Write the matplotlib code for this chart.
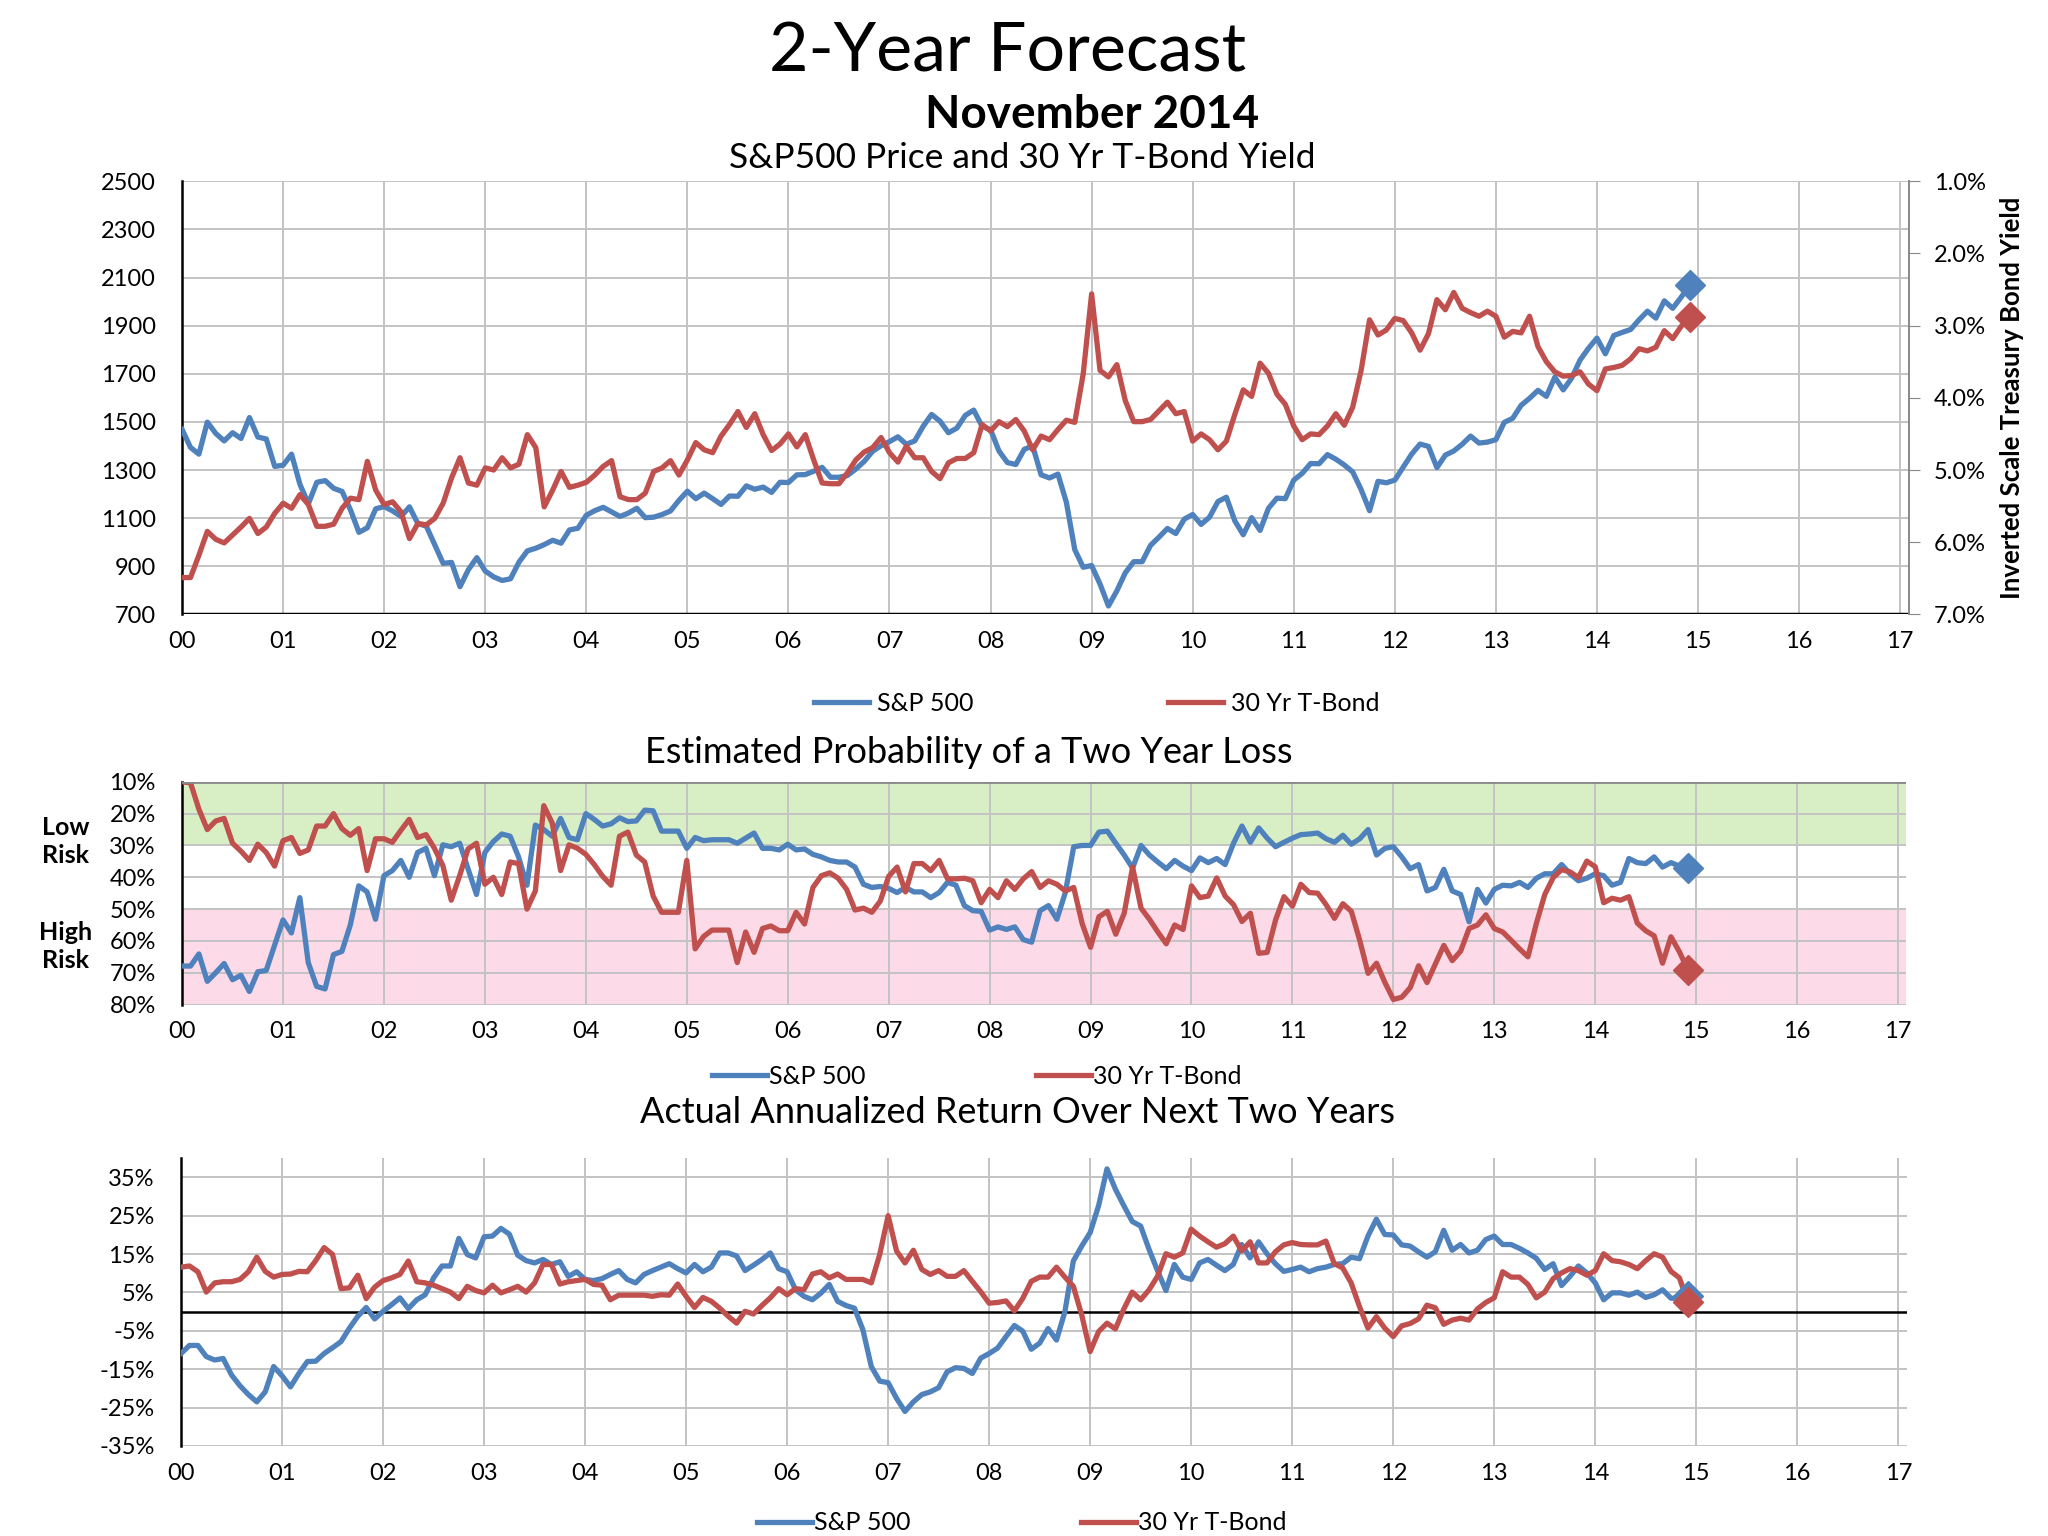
"""2-Year Forecast, November 2014: S&P 500 vs 30 Yr T-Bond."""

import numpy as np
import matplotlib.pyplot as plt
from matplotlib.lines import Line2D
from matplotlib.ticker import FuncFormatter

plt.rcParams["font.family"] = ["Lato", "DejaVu Sans"]

BLUE = "#4f81bd"
RED = "#c0504d"
GRID = "#c3c3c3"

# Monthly values, first point = Dec 1999 (x = 0), last = Nov 2014
spx_price = [
    1469, 1394, 1366, 1499, 1452, 1421, 1455, 1431, 1518, 1437, 1429, 1315, 1320,
    1366, 1240, 1160, 1249, 1256, 1224, 1211, 1134, 1041, 1060, 1139, 1148,
    1130, 1107, 1147, 1077, 1067, 990, 912, 916, 815, 886, 936, 880,
    856, 841, 848, 917, 964, 975, 990, 1008, 996, 1051, 1058, 1112,
    1131, 1145, 1126, 1107, 1121, 1141, 1102, 1104, 1115, 1130, 1174, 1212,
    1181, 1204, 1181, 1157, 1192, 1191, 1234, 1220, 1229, 1207, 1249, 1248,
    1280, 1281, 1295, 1311, 1270, 1270, 1277, 1304, 1336, 1378, 1401, 1418,
    1438, 1407, 1421, 1482, 1531, 1503, 1455, 1474, 1527, 1549, 1481, 1468,
    1379, 1331, 1323, 1386, 1400, 1280, 1267, 1283, 1166, 969, 896, 903,
    826, 735, 798, 873, 919, 919, 987, 1021, 1057, 1036, 1096, 1115,
    1074, 1104, 1169, 1187, 1089, 1031, 1102, 1049, 1141, 1183, 1181, 1258,
    1286, 1327, 1326, 1364, 1345, 1321, 1292, 1219, 1131, 1253, 1247, 1258,
    1312, 1366, 1408, 1398, 1310, 1362, 1379, 1407, 1441, 1412, 1416, 1426,
    1498, 1515, 1569, 1598, 1631, 1606, 1686, 1633, 1682, 1757, 1806, 1848,
    1783, 1859, 1872, 1884, 1924, 1960, 1931, 2003, 1972, 2018, 2068,
]

bond_yield = [
    6.49, 6.49, 6.18, 5.85, 5.96, 6.01, 5.90, 5.79, 5.67, 5.88, 5.79, 5.60,
    5.46, 5.53, 5.34, 5.48, 5.78, 5.78, 5.75, 5.53, 5.39, 5.41, 4.88, 5.28,
    5.48, 5.44, 5.58, 5.95, 5.74, 5.76, 5.67, 5.46, 5.11, 4.83, 5.18, 5.21,
    4.97, 5.00, 4.83, 4.97, 4.92, 4.51, 4.69, 5.51, 5.28, 5.02, 5.24, 5.21,
    5.17, 5.07, 4.95, 4.87, 5.37, 5.41, 5.41, 5.32, 5.02, 4.97, 4.87, 5.07,
    4.86, 4.62, 4.72, 4.76, 4.53, 4.37, 4.19, 4.41, 4.22, 4.51, 4.73, 4.64,
    4.50, 4.68, 4.51, 4.86, 5.18, 5.19, 5.19, 5.04, 4.86, 4.75, 4.69, 4.55,
    4.76, 4.89, 4.67, 4.83, 4.83, 5.02, 5.12, 4.90, 4.84, 4.84, 4.76, 4.37,
    4.46, 4.33, 4.40, 4.30, 4.46, 4.72, 4.53, 4.58, 4.44, 4.31, 4.34, 3.67,
    2.56, 3.62, 3.71, 3.54, 4.04, 4.33, 4.33, 4.30, 4.18, 4.06, 4.22, 4.19,
    4.60, 4.50, 4.58, 4.72, 4.60, 4.23, 3.89, 3.98, 3.52, 3.66, 3.95, 4.09,
    4.39, 4.58, 4.50, 4.51, 4.39, 4.22, 4.38, 4.13, 3.62, 2.92, 3.13, 3.06,
    2.90, 2.93, 3.10, 3.34, 3.11, 2.64, 2.78, 2.54, 2.76, 2.82, 2.87, 2.80,
    2.87, 3.16, 3.08, 3.10, 2.87, 3.29, 3.50, 3.64, 3.70, 3.69, 3.64, 3.81,
    3.90, 3.60, 3.58, 3.55, 3.46, 3.32, 3.35, 3.30, 3.07, 3.18, 3.01, 2.88,
]

spx_loss_prob = [
    67.9, 67.9, 64.1, 72.7, 70.0, 67.1, 72.2, 70.8, 75.9, 69.7, 69.3, 61.4,
    53.4, 57.5, 46.4, 66.8, 74.3, 75.1, 64.3, 63.3, 55.0, 42.7, 44.6, 53.2,
    39.5, 37.9, 34.7, 40.0, 32.2, 30.9, 39.5, 29.8, 30.4, 29.3, 37.3, 45.4,
    32.2, 28.8, 26.4, 27.1, 33.6, 42.5, 23.6, 25.0, 27.1, 21.5, 27.5, 28.2,
    20.0, 21.8, 23.9, 23.2, 21.3, 22.5, 22.3, 18.9, 19.1, 25.5, 25.5, 25.5,
    30.9, 27.5, 28.5, 28.2, 28.2, 28.2, 29.3, 27.7, 26.1, 30.9, 30.9, 31.4,
    29.6, 31.4, 31.1, 32.8, 33.6, 34.7, 35.2, 35.2, 36.8, 42.2, 43.2, 42.9,
    43.5, 44.8, 43.2, 44.6, 44.6, 46.4, 44.8, 41.6, 42.5, 48.9, 50.5, 50.7,
    56.6, 55.6, 56.4, 55.6, 59.6, 60.4, 50.5, 48.9, 53.2, 44.8, 30.4, 30.0,
    30.0, 25.8, 25.5, 29.3, 33.0, 37.1, 30.0, 33.0, 35.2, 37.3, 34.7, 36.5,
    37.9, 33.9, 35.4, 34.1, 36.0, 29.3, 23.9, 29.0, 24.5, 27.7, 30.4, 29.0,
    27.7, 26.6, 26.4, 26.1, 27.9, 29.0, 26.8, 29.6, 27.9, 25.0, 33.0, 30.9,
    30.4, 33.6, 37.3, 36.0, 44.3, 43.2, 37.5, 44.3, 45.4, 54.0, 43.8, 48.1,
    43.8, 42.5, 42.7, 41.6, 43.2, 40.3, 38.9, 38.9, 36.0, 38.9, 41.1, 40.3,
    38.9, 39.5, 42.5, 41.6, 34.1, 35.4, 35.7, 33.6, 36.8, 35.4, 36.5, 37.1,
]

bond_loss_prob = [
    10.0, 10.3, 18.6, 25.0, 22.3, 21.5, 29.3, 31.8, 34.7, 29.6, 32.2, 36.5,
    28.5, 27.5, 32.5, 31.4, 23.9, 23.9, 20.0, 24.7, 26.8, 24.7, 37.9, 27.9,
    27.9, 29.0, 25.3, 21.8, 27.5, 26.6, 30.9, 36.3, 47.2, 39.5, 31.1, 29.3,
    42.2, 40.0, 45.4, 35.2, 35.7, 50.0, 44.3, 17.5, 22.9, 37.9, 29.8, 30.9,
    32.8, 36.0, 39.7, 42.5, 27.1, 25.8, 33.0, 35.2, 45.9, 51.0, 51.0, 51.0,
    34.7, 62.5, 58.6, 56.6, 56.6, 56.6, 66.8, 57.2, 63.6, 56.1, 55.3, 56.8,
    56.8, 51.0, 54.7, 43.2, 39.5, 38.6, 40.3, 43.8, 50.3, 49.7, 51.0, 47.5,
    39.7, 36.8, 44.6, 35.7, 35.7, 37.9, 34.7, 40.5, 40.5, 40.3, 41.1, 48.0,
    43.8, 46.4, 41.1, 43.8, 40.5, 38.2, 43.2, 41.1, 42.2, 44.3, 43.2, 54.5,
    62.0, 52.4, 50.7, 57.9, 51.3, 36.8, 49.7, 53.2, 57.2, 60.9, 55.0, 56.4,
    42.7, 46.4, 45.9, 40.2, 45.9, 48.6, 53.9, 51.3, 63.9, 63.6, 53.4, 46.1,
    49.1, 42.2, 44.8, 45.0, 48.6, 52.9, 48.3, 50.7, 59.8, 70.2, 67.0, 73.1,
    78.4, 77.7, 74.7, 67.8, 73.1, 67.2, 61.4, 66.2, 63.2, 56.1, 55.0, 51.8,
    56.1, 57.2, 59.8, 62.5, 65.0, 54.5, 45.4, 40.1, 37.6, 38.3, 40.1, 34.9,
    36.7, 48.0, 46.6, 47.2, 46.1, 54.4, 56.8, 58.4, 67.0, 58.7, 63.4, 69.1,
]

spx_return = [
    -10.9, -8.8, -8.8, -11.7, -12.6, -12.2, -16.5, -19.3, -21.6, -23.5, -20.9, -14.3,
    -16.7, -19.6, -16.1, -13.0, -12.9, -10.9, -9.4, -7.8, -4.3, -1.2, 1.1, -1.9,
    0.1, 1.8, 3.6, 0.8, 3.1, 4.4, 8.8, 11.9, 11.9, 19.1, 14.9, 14.0,
    19.5, 19.7, 21.7, 20.2, 14.7, 13.3, 12.7, 13.6, 12.3, 13.0, 9.2, 10.4,
    8.4, 8.1, 8.6, 9.7, 10.7, 8.4, 7.5, 9.7, 10.7, 11.6, 12.5, 11.2,
    10.1, 12.3, 10.4, 11.6, 15.3, 15.3, 14.5, 10.7, 12.1, 13.6, 15.3, 11.2,
    10.4, 5.7, 4.0, 3.1, 4.8, 7.1, 2.7, 1.6, 0.9, -4.7, -14.3, -18.1,
    -18.5, -22.6, -26.0, -23.5, -21.6, -20.9, -19.8, -15.7, -14.6, -14.8, -16.1, -12.1,
    -10.9, -9.5, -6.5, -3.6, -5.1, -9.8, -8.2, -4.4, -7.4, 0.0, 13.2, 17.1,
    20.6, 27.6, 37.2, 31.9, 27.6, 23.5, 22.3, 16.2, 10.7, 5.5, 12.3, 9.0,
    8.4, 12.7, 13.6, 12.1, 10.7, 12.3, 17.5, 14.0, 18.2, 15.1, 12.5, 10.5,
    11.0, 11.6, 10.4, 11.2, 11.6, 12.3, 12.5, 14.2, 13.8, 19.7, 24.1, 20.1,
    20.0, 17.4, 17.1, 15.6, 14.2, 15.6, 21.2, 16.0, 17.5, 15.3, 16.0, 18.8,
    19.7, 17.5, 17.5, 16.5, 15.3, 13.9, 11.0, 12.5, 6.8, 9.2, 11.9, 10.1,
    7.5, 3.1, 4.9, 4.9, 4.3, 5.1, 3.7, 4.4, 5.7, 3.5, 3.5, 4.0,
]

bond_return = [
    11.6, 11.9, 10.4, 5.1, 7.5, 7.8, 7.8, 8.4, 10.4, 14.2, 10.5, 9.0,
    9.7, 9.8, 10.5, 10.4, 13.3, 16.7, 14.9, 6.0, 6.2, 9.5, 3.4, 6.4,
    8.1, 8.8, 9.7, 13.2, 7.8, 7.5, 6.9, 6.0, 5.1, 3.4, 6.6, 5.5,
    4.9, 6.9, 4.9, 5.7, 6.6, 5.1, 7.5, 12.3, 12.3, 7.2, 7.8, 8.1,
    8.4, 7.1, 6.9, 3.1, 4.3, 4.3, 4.3, 4.3, 4.0, 4.4, 4.3, 7.2,
    4.0, 1.1, 3.7, 2.7, 0.9, -1.2, -3.0, 0.1, -0.6, 1.6, 3.6, 6.0,
    4.4, 6.0, 5.7, 9.8, 10.4, 8.8, 9.8, 8.4, 8.4, 8.4, 7.5, 14.9,
    25.0, 15.8, 12.7, 16.0, 11.0, 9.7, 10.7, 9.2, 9.2, 10.7, 7.9, 5.2,
    2.2, 2.4, 2.8, 0.2, 3.5, 7.9, 9.0, 9.0, 11.6, 9.0, 6.6, -0.9,
    -10.4, -5.2, -3.0, -4.5, 0.7, 5.1, 3.1, 5.7, 9.2, 15.1, 14.2, 15.3,
    21.5, 19.7, 18.2, 16.8, 17.7, 19.7, 15.8, 18.2, 12.7, 12.7, 15.6, 17.4,
    18.0, 17.5, 17.4, 17.4, 18.4, 12.5, 11.4, 7.5, 1.3, -4.3, -1.3, -4.3,
    -6.5, -3.7, -3.1, -1.9, 1.7, 1.0, -3.3, -2.2, -1.7, -2.2, 0.7, 2.4,
    3.6, 10.4, 9.0, 9.0, 7.1, 3.6, 5.1, 8.6, 10.1, 11.2, 10.7, 9.5,
    10.7, 15.1, 13.3, 13.0, 12.3, 11.2, 13.3, 15.1, 14.2, 10.5, 8.8, 2.4,
]

year_labels = ["%02d" % y for y in range(18)]

months = np.arange(len(spx_price)) / 12.0

# =============================================================================
fig = plt.figure(figsize=(20.48, 15.36), dpi=100)

fig.text(0.492, 0.966, "2-Year Forecast", fontsize=49, ha="center", va="center")
fig.text(0.533, 0.925, "November 2014", fontsize=33, fontweight="bold",
         ha="center", va="center")
fig.text(0.499, 0.897, "S&P500 Price and 30 Yr T-Bond Yield", fontsize=25.5,
         ha="center", va="center")
fig.text(0.473, 0.510, "Estimated Probability of a Two Year Loss", fontsize=26,
         ha="center", va="center")
fig.text(0.497, 0.276, "Actual Annualized Return Over Next Two Years",
         fontsize=26, ha="center", va="center")


def style_xaxis(ax):
    ax.set_xlim(0, 17 + 1 / 12)
    ax.set_xticks(range(18))
    ax.set_xticklabels(year_labels, fontsize=17)
    ax.tick_params(axis="x", length=0, pad=12)
    ax.tick_params(axis="y", length=0, labelsize=17, pad=19)
    ax.grid(True, color=GRID, linewidth=1.4)
    for s in ("top", "right", "bottom"):
        ax.spines[s].set_visible(False)
    ax.spines["left"].set_color("black")
    ax.spines["left"].set_linewidth(1.8)


def pct(v, pos):
    return "%d%%" % v


# ---- Top panel: price and yield
ax1 = fig.add_axes([0.0889, 0.600, 0.843, 0.282])
style_xaxis(ax1)
ax1.set_ylim(700, 2500)
ax1.set_yticks(range(700, 2501, 200))
ax1.axhline(700, color="black", linewidth=2.5, zorder=4)
ax1.plot(months, spx_price, color=BLUE, linewidth=3.8, zorder=3)
ax1.plot(months[-1], spx_price[-1], marker="D", markersize=15, color=BLUE, zorder=5)

ax2 = ax1.twinx()
ax2.set_ylim(7.0, 1.0)
ax2.set_yticks(np.arange(1.0, 7.01, 1.0))
ax2.yaxis.set_major_formatter(FuncFormatter(lambda v, p: "%.1f%%" % v))
ax2.tick_params(axis="y", labelsize=17, length=8, color="#888888", pad=10)
for s in ("top", "left", "bottom"):
    ax2.spines[s].set_visible(False)
ax2.spines["right"].set_color("#888888")
ax2.spines["right"].set_linewidth(1.4)
ax2.plot(months, bond_yield, color=RED, linewidth=3.8, zorder=3)
ax2.plot(months[-1], bond_yield[-1], marker="D", markersize=15, color=RED, zorder=5)
ax2.set_ylabel("Inverted Scale Treasury Bond Yield", fontsize=18.5,
               fontweight="bold", labelpad=10)

handles = [Line2D([], [], color=BLUE, linewidth=3.8),
           Line2D([], [], color=RED, linewidth=3.8)]
names = ["S&P 500", "30 Yr T-Bond"]
fig.legend(handles, names, loc="center", bbox_to_anchor=(0.5355, 0.542), ncol=2,
           frameon=False, fontsize=18, handlelength=2.2, columnspacing=7.8,
           handletextpad=0.3)

# ---- Middle panel: probability of loss
ax3 = fig.add_axes([0.0889, 0.346, 0.842, 0.145])
style_xaxis(ax3)
ax3.set_ylim(80, 10)
ax3.set_yticks(range(10, 81, 10))
ax3.yaxis.set_major_formatter(FuncFormatter(pct))
ax3.axhspan(10, 30, color="#d8eec4", zorder=0.5, linewidth=0)
ax3.axhspan(50, 80, color="#fddae8", zorder=0.5, linewidth=0)
ax3.axhline(10, color="#888888", linewidth=2, zorder=4)
ax3.plot(months, spx_loss_prob, color=BLUE, linewidth=3.8, zorder=3)
ax3.plot(months, bond_loss_prob, color=RED, linewidth=3.8, zorder=3)
ax3.plot(months[-1], spx_loss_prob[-1], marker="D", markersize=15, color=BLUE, zorder=5)
ax3.plot(months[-1], bond_loss_prob[-1], marker="D", markersize=15, color=RED, zorder=5)

fig.text(0.032, 0.452, "Low\nRisk", fontsize=18, fontweight="bold",
         ha="center", va="center", linespacing=1.25)
fig.text(0.032, 0.384, "High\nRisk", fontsize=18, fontweight="bold",
         ha="center", va="center", linespacing=1.25)

fig.legend(handles, names, loc="center", bbox_to_anchor=(0.477, 0.299), ncol=2,
           frameon=False, fontsize=18, handlelength=2.2, columnspacing=6.8,
           handletextpad=0.1)

# ---- Bottom panel: actual returns
ax4 = fig.add_axes([0.0884, 0.0586, 0.8426, 0.1874])
style_xaxis(ax4)
ax4.set_ylim(-35, 40)
ax4.set_yticks(range(-35, 36, 10))
ax4.yaxis.set_major_formatter(FuncFormatter(pct))
ax4.axhline(0, color="black", linewidth=1.8, zorder=2.6)
ax4.plot(months, spx_return, color=BLUE, linewidth=3.8, zorder=3)
ax4.plot(months, bond_return, color=RED, linewidth=3.8, zorder=3)
ax4.plot(months[-1], spx_return[-1], marker="D", markersize=15, color=BLUE, zorder=5)
ax4.plot(months[-1], bond_return[-1], marker="D", markersize=15, color=RED, zorder=5)

fig.legend(handles, names, loc="center", bbox_to_anchor=(0.499, 0.0085), ncol=2,
           frameon=False, fontsize=18, handlelength=2.2, columnspacing=6.8,
           handletextpad=0.1)

fig.savefig("out.png", dpi=100)
